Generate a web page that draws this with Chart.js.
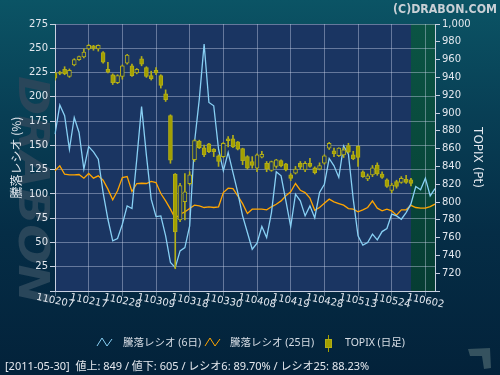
<!DOCTYPE html>
<html><head><meta charset="utf-8">
<script src="https://cdn.jsdelivr.net/npm/chart.js@4.4.0/dist/chart.umd.min.js"></script>
<style>
html,body{margin:0;padding:0;background:#042540;}
#wrap{width:500px;height:375px;position:relative;overflow:hidden;background:linear-gradient(180deg,#0b5465 0%,#083f55 30%,#052d46 62%,#03223a 100%);}
canvas{display:block;}
</style></head><body>
<div id="wrap"><canvas id="c" width="500" height="375"></canvas></div>
<script>
const dates = ["110207","110208","110209","110210","110214","110215","110216","110217","110218","110221",
"110222","110223","110224","110225","110228","110301","110302","110303","110304","110307",
"110308","110309","110310","110311","110314","110315","110316","110317","110318","110322",
"110323","110324","110325","110328","110329","110330","110331","110401","110404","110405",
"110406","110407","110408","110411","110412","110413","110414","110415","110418","110419",
"110420","110421","110422","110425","110426","110427","110428","110502","110506","110509",
"110510","110511","110512","110513","110516","110517","110518","110519","110520","110523",
"110524","110525","110526","110527","110530","110531","110601","110602","110603","110606"];
const tickDates = ["110207","110217","110228","110309","110318","110330","110408","110419","110428","110513","110524","110602"];
const ratio6 = [161.6,191.5,180.5,146,178.7,163.3,125.5,148.8,143.3,135.8,
101.4,73.9,51.6,54,68.8,87.7,85,135.8,190,140,
94.6,76.7,77.4,56.8,29.3,24.1,41.3,44.7,67,153,
197.6,254.3,194.2,190.8,146,123.8,142.7,122,101.4,77.4,
60.2,43,49.2,66.4,55,80.8,122.7,118.6,92.8,66.4,
99.7,92.8,77.4,87.7,75.3,101.4,110,136.5,128.9,117,
149.5,140.9,94.6,56.8,47.2,50,58.5,52.6,61.2,64.3,
79.1,77.4,73.9,80.8,89.7,107.6,104.2,116.2,98,105.5];
const ratio25 = [123.8,128.9,120.3,119.6,119.6,120,116.2,121,116.2,118.6,
114.1,104.9,93.9,103.2,116.9,117.9,102.5,110.7,111,110.7,
112.8,111.7,100.4,92.8,84.3,74.6,79.1,81.5,84.9,88.4,
87.7,86,86.7,86,86.7,101.4,105.9,105.5,98,90,
79.8,84.3,84.3,84.3,83.6,86.7,89.4,92.8,98,102.1,
110.7,103.8,101.4,95.6,83.2,86,90.4,94.6,91.8,90.1,
88.4,84.9,84.3,81.5,83.6,86,92.8,85.3,82.5,84.3,
82.5,78.1,83.6,83.6,88.23,86,85.3,85.3,87,89.4];
const topixOpen = [945,946,949,941,954,960,963,972,975.5,972,
968,949,943,934,941,956,953,945,961,951,
942,948,942,921.5,897,831.5,780,800.5,820.5,847.5,
868.5,861,865.5,859.5,852,851,871,871,867.5,860,
851,845.5,838,850.5,843.5,835.5,840,846.5,843,830.5,
832.5,843.5,836,843.5,838.5,837,843.5,860.5,857.5,852,
853,863.5,853,862.5,834,826,830.5,841.5,831.5,825,
813,823,822,825.5,825];
const topixClose = [939,944.5,944,948,960,963.5,968.5,976,972.5,976,
957,946,934,942,953,965,942,949,955,941,
938.5,945,931,915,847,766.5,818.5,811.5,830.5,869,
861,853,856.5,856.5,845.5,866,869,862,859.5,846.5,
838,841,853,853.5,837,845.5,847.5,840.5,836,826.5,
837,839,843.5,840,833,841,852,866,854,860.5,
858.5,856,848.5,850,828.5,829.5,838.5,831.5,827.5,817.5,
819,817.5,826.5,822,821];
const topixHigh = [946,947,952,949.5,961,964,972,977,976,976.5,
969,957,944,943,954,966,955,950,963.5,952,
947,951,943,926,898,832,821,832,834,870,
869.5,864,866,860,853,867,873.5,875,868,860.5,
852,851,854,857,845.5,846,848,847.5,843.5,832,
840,845.5,845.5,849,839.5,844,853,867,860.5,861,
861,866,857,863,835,831.5,841,844,834,826,
821,824.5,828.5,830,826.5];
const topixLow = [937,943,943,940,953,959,962,971,970.5,969.5,
956,945,932,933,938,955,941,944,953,940,
937,943,928,913,843.5,725,778,780,819,845.5,
860,851,855.5,851,840,850,862,861,858.5,842,
837,838,834,849.5,834,834.5,838,839.5,835,824,
831.5,837,834,839,831.5,836,842.5,859,851,851,
850,855,847.5,840,827.5,824,828.5,830,826.5,816.5,
810.5,815.5,821,821,818];
const leftTitle = '騰落レシオ (%)';
const rightTitle = 'TOPIX (Pt)';
const legendLabels = ['騰落レシオ (6日)', '騰落レシオ (25日)', 'TOPIX (日足)'];
const footerText = '[2011-05-30]  値上: 849 / 値下: 605 / レシオ6: 89.70% / レシオ25: 88.23%';
const copyright = '(C)DRABON.COM';
const watermark = 'DRABON';
const highlightFrom = '110530';

const BLUE = '#88d0f4', ORANGE = '#ffa500', OLIVE = '#a3a000', OLIVE_B = '#b3ae18';
const PLOT_BG = '#1a3562';
const GRID = 'rgba(205,215,235,0.42)';
const AXIS = '#c8d0e0';
const TXT = '#e2e7ee';
const tickIdx = new Set(tickDates.map(d => dates.indexOf(d)));
const nT = topixOpen.length;

const deco = {
  id: 'deco',
  beforeDraw(chart) {
    const {ctx, chartArea: a, scales: {x}} = chart;
    ctx.save();
    // watermark
    ctx.translate(31, 190);
    ctx.rotate(Math.PI / 2);
    ctx.font = 'bold italic 40px "DejaVu Sans"';
    const w = ctx.measureText(watermark).width;
    ctx.scale(228 / w, 1.05);
    ctx.fillStyle = '#29465a';
    ctx.textAlign = 'center';
    ctx.textBaseline = 'middle';
    ctx.fillText(watermark, 0, 1);
    ctx.restore();
    ctx.save();
    ctx.fillStyle = PLOT_BG;
    ctx.fillRect(a.left, a.top, a.right - a.left, a.bottom - a.top);
    const gx = x.getPixelForValue(dates.indexOf(highlightFrom));
    const g = ctx.createLinearGradient(0, a.top, 0, a.bottom);
    g.addColorStop(0, '#0b5444'); g.addColorStop(1, '#063d33');
    ctx.fillStyle = g;
    ctx.fillRect(gx, a.top, a.right - gx, a.bottom - a.top);
    ctx.restore();
  },
  afterDraw(chart) {
    const {ctx, chartArea: a, scales: {x}} = chart;
    ctx.save();
    // x tick labels
    ctx.fillStyle = TXT;
    ctx.font = '10px "DejaVu Sans"';
    ctx.textAlign = 'center';
    ctx.textBaseline = 'middle';
    tickDates.forEach(d => {
      const px = x.getPixelForValue(dates.indexOf(d));
      ctx.save();
      ctx.translate(px, a.bottom + 10);
      ctx.rotate(12 * Math.PI / 180);
      ctx.fillText(d, 0, 0);
      ctx.restore();
    });
    // copyright
    ctx.font = 'bold 13px "DejaVu Sans"';
    ctx.textBaseline = 'alphabetic';
    const cw = ctx.measureText(copyright).width;
    ctx.save();
    ctx.translate(497, 13);
    ctx.scale(104 / cw, 1);
    ctx.textAlign = 'right';
    ctx.fillStyle = '#c9d0d6';
    ctx.fillText(copyright, 0, 0);
    ctx.restore();
    // legend
    ctx.textBaseline = 'middle';
    const ly = 343;
    ctx.lineWidth = 1;
    const zig = (x0, col) => {
      ctx.strokeStyle = col;
      ctx.beginPath();
      ctx.moveTo(x0, ly + 3); ctx.lineTo(x0 + 5, ly - 5); ctx.lineTo(x0 + 10, ly + 3); ctx.lineTo(x0 + 15, ly - 4);
      ctx.stroke();
    };
    zig(97, BLUE);
    zig(205, ORANGE);
    ctx.fillStyle = OLIVE;
    ctx.fillRect(328, 335, 1, 17);
    ctx.fillRect(325, 339, 7, 9);
    ctx.strokeStyle = OLIVE_B;
    ctx.strokeRect(325.5, 339.5, 6, 8);
    ctx.fillStyle = '#d8dee6';
    ctx.font = '10.5px "Noto Sans", "Noto Sans CJK JP"';
    ctx.textAlign = 'left';
    ctx.fillText(legendLabels[0], 123, ly);
    ctx.fillText(legendLabels[1], 230, ly);
    ctx.fillText(legendLabels[2], 345, ly);
    // footer
    ctx.font = '11px "Noto Sans", "Noto Sans CJK JP"';
    ctx.fillStyle = '#e4e8ee';
    ctx.fillText(footerText, 5, 367);
    // small logo
    ctx.fillStyle = '#35525f';
    ctx.beginPath();
    ctx.moveTo(468, 349); ctx.lineTo(490, 348); ctx.lineTo(491, 368); ctx.lineTo(484, 369);
    ctx.lineTo(482, 356); ctx.lineTo(470, 356); ctx.closePath();
    ctx.fill();
    ctx.restore();
  }
};

const tickFont = {family: '"DejaVu Sans"', size: 10};
new Chart(document.getElementById('c'), {
  type: 'line',
  data: {
    labels: dates,
    datasets: [
      {type: 'line', label: legendLabels[1], data: ratio25, borderColor: ORANGE, borderWidth: 1.3, pointRadius: 0, tension: 0, yAxisID: 'y', order: 4},
      {type: 'line', label: legendLabels[0], data: ratio6, borderColor: BLUE, borderWidth: 1.3, pointRadius: 0, tension: 0, yAxisID: 'y', order: 3},
      {type: 'bar', label: 'wick', data: dates.map((d, i) => i < nT ? [topixLow[i], topixHigh[i]] : null),
       yAxisID: 'y2', barThickness: 1, backgroundColor: OLIVE_B, grouped: false, order: 2},
      {type: 'bar', label: legendLabels[2], data: dates.map((d, i) => i < nT ? [topixOpen[i], topixClose[i]] : null),
       yAxisID: 'y2', barThickness: 4, grouped: false, order: 1,
       backgroundColor: c => (topixClose[c.dataIndex] < topixOpen[c.dataIndex] ? OLIVE : PLOT_BG),
       borderColor: OLIVE_B, borderWidth: 1, borderSkipped: false}
    ]
  },
  options: {
    responsive: false,
    animation: false,
    devicePixelRatio: 1,
    layout: {padding: {top: 24, left: 0, right: 0, bottom: 0}},
    plugins: {legend: {display: false}, tooltip: {enabled: false}},
    scales: {
      x: {
        type: 'category', offset: false,
        grid: {offset: false, color: c => (tickIdx.has(c.index) ? GRID : 'rgba(0,0,0,0)'), tickLength: 5, lineWidth: 1},
        border: {color: AXIS},
        ticks: {display: false, autoSkip: false},
        afterFit(s) { s.height = 84; }
      },
      y: {
        position: 'left', min: 0, max: 275,
        ticks: {stepSize: 25, color: TXT, font: tickFont, padding: 2, callback: v => (v === 0 ? '' : v)},
        grid: {color: GRID, tickLength: 5, tickColor: AXIS},
        border: {color: AXIS},
        title: {display: true, text: leftTitle, color: TXT, font: {family: '"Noto Sans CJK JP"', size: 12}, padding: {top: 9, bottom: 0}},
        afterFit(s) { s.width = 55; }
      },
      y2: {
        position: 'right', min: 700, max: 1000,
        ticks: {stepSize: 20, color: TXT, font: tickFont, padding: 2, callback: v => (v === 700 ? '' : v.toLocaleString('en-US'))},
        grid: {drawOnChartArea: false, tickLength: 5, color: AXIS},
        border: {color: AXIS},
        title: {display: true, text: rightTitle, color: TXT, font: {family: '"DejaVu Sans"', size: 12}, padding: {top: 16, bottom: 0}},
        afterFit(s) { s.width = 65; }
      }
    }
  },
  plugins: [deco]
});
</script>
</body></html>
